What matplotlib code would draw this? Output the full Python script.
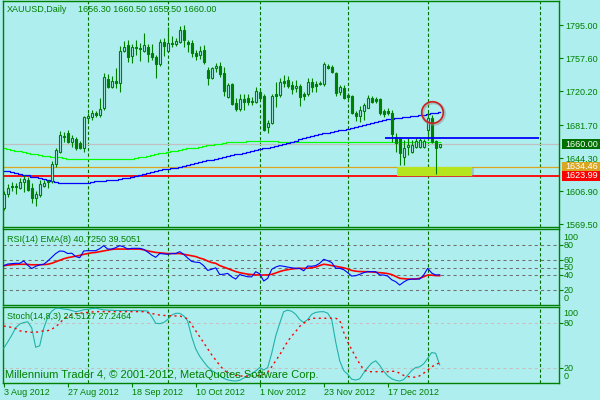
import numpy as np
import matplotlib
matplotlib.use('Agg')
import matplotlib.pyplot as plt
from matplotlib.patches import Rectangle
import matplotlib.transforms as mtransforms

plt.rcParams['font.family'] = ['Liberation Sans', 'DejaVu Sans']

# ---------------- data ----------------
opens = [1587.6, 1603.5, 1613.1, 1612.5, 1610.3, 1617.1, 1619.4, 1610.3, 1599.0, 1602.4,
         1612.6, 1618.2, 1618.2, 1637.5, 1651.1, 1669.2, 1672.6, 1662.4, 1665.8, 1661.3,
         1655.6, 1689.6, 1690.8, 1695.3, 1693.0, 1701.0, 1733.8, 1724.7, 1731.5, 1729.3,
         1765.5, 1772.3, 1759.9, 1770.1, 1768.9, 1765.5, 1770.1, 1763.3, 1758.7, 1750.8,
         1775.7, 1765.5, 1774.6, 1773.5, 1775.7, 1789.3, 1775.7, 1774.6, 1763.3, 1761.0,
         1766.7, 1744.0, 1734.9, 1746.3, 1748.5, 1740.6, 1713.4, 1728.1, 1706.6, 1699.8,
         1711.1, 1712.3, 1709.4, 1707.7, 1719.1, 1714.5, 1679.4, 1684.0, 1716.8, 1715.7,
         1731.0, 1732.7, 1727.0, 1723.6, 1725.9, 1716.8, 1716.8, 1730.4, 1728.1, 1729.3,
         1728.1, 1748.5, 1747.4, 1740.6, 1719.1, 1723.6, 1715.7, 1714.5, 1695.3, 1691.9,
         1697.6, 1701.0, 1712.3, 1711.1, 1711.1, 1697.6, 1697.6, 1695.3, 1668.1, 1667.0,
         1645.4, 1656.8, 1651.1, 1656.8, 1656.8, 1656.8, 1676.0, 1689.6, 1663.6, 1656.3]
highs = [1606.9, 1614.8, 1617.1, 1616.0, 1621.6, 1625.0, 1622.8, 1616.0, 1606.9, 1619.4,
         1619.4, 1619.4, 1640.9, 1655.6, 1674.9, 1673.8, 1676.0, 1670.4, 1668.1, 1663.6,
         1691.9, 1695.3, 1698.7, 1697.6, 1712.3, 1740.6, 1739.5, 1737.2, 1746.3, 1771.2,
         1776.9, 1778.0, 1773.5, 1778.0, 1774.6, 1785.9, 1773.5, 1773.5, 1761.0, 1779.1,
         1780.3, 1792.7, 1782.5, 1780.3, 1793.9, 1795.0, 1778.0, 1778.0, 1766.7, 1771.2,
         1772.3, 1747.4, 1747.9, 1751.9, 1753.1, 1747.4, 1729.3, 1729.3, 1712.3, 1716.8,
         1716.8, 1716.8, 1713.4, 1724.7, 1723.6, 1716.8, 1687.4, 1716.8, 1730.4, 1734.9,
         1738.3, 1737.2, 1731.5, 1732.7, 1728.1, 1719.1, 1734.9, 1734.9, 1731.5, 1731.5,
         1753.1, 1750.8, 1749.7, 1741.7, 1727.0, 1727.0, 1717.9, 1715.7, 1697.6, 1703.2,
         1706.6, 1715.7, 1714.5, 1713.4, 1712.3, 1699.8, 1701.0, 1698.7, 1672.6, 1667.5,
         1664.7, 1667.0, 1664.7, 1667.0, 1667.0, 1665.8, 1696.4, 1693.0, 1664.7, 1660.5]
lows = [1585.4, 1600.1, 1606.9, 1603.5, 1609.2, 1605.8, 1606.9, 1593.3, 1589.9, 1600.1,
        1611.4, 1610.3, 1616.0, 1634.1, 1650.5, 1662.4, 1661.3, 1656.8, 1653.4, 1654.5,
        1651.1, 1686.2, 1687.4, 1690.8, 1690.8, 1698.7, 1723.6, 1723.6, 1723.6, 1719.1,
        1764.4, 1753.1, 1751.9, 1761.0, 1754.2, 1764.4, 1753.1, 1755.3, 1734.9, 1748.5,
        1759.9, 1764.4, 1770.1, 1771.2, 1775.0, 1770.1, 1764.4, 1758.7, 1755.3, 1756.5,
        1750.8, 1727.0, 1733.8, 1741.7, 1736.1, 1714.5, 1712.3, 1704.3, 1697.6, 1697.6,
        1698.7, 1704.3, 1704.3, 1706.6, 1710.0, 1674.9, 1672.6, 1682.8, 1702.1, 1713.4,
        1724.7, 1723.6, 1716.8, 1719.1, 1703.2, 1710.0, 1714.5, 1719.1, 1719.1, 1727.0,
        1725.9, 1745.1, 1740.6, 1714.5, 1715.7, 1711.1, 1710.0, 1694.2, 1686.2, 1685.1,
        1687.4, 1700.5, 1706.6, 1706.6, 1693.0, 1690.8, 1693.0, 1662.4, 1651.1, 1636.4,
        1636.4, 1647.7, 1650.0, 1655.6, 1655.6, 1655.6, 1664.7, 1661.3, 1626.2, 1655.5]
closes = [1603.5, 1610.3, 1611.4, 1611.0, 1617.1, 1620.5, 1608.0, 1599.0, 1603.5, 1614.8,
          1616.0, 1617.1, 1637.5, 1653.4, 1670.4, 1668.1, 1662.4, 1667.0, 1655.6, 1655.6,
          1690.8, 1691.9, 1695.3, 1693.0, 1699.8, 1736.1, 1724.7, 1731.5, 1729.3, 1765.5,
          1770.1, 1758.7, 1770.1, 1768.9, 1767.8, 1772.3, 1762.1, 1758.7, 1750.8, 1775.7,
          1771.2, 1774.6, 1773.5, 1776.9, 1789.3, 1778.0, 1773.5, 1763.3, 1759.9, 1765.5,
          1753.1, 1734.9, 1746.3, 1748.5, 1739.5, 1720.2, 1727.0, 1705.5, 1699.8, 1711.1,
          1707.7, 1707.7, 1708.3, 1720.2, 1712.3, 1676.0, 1684.0, 1714.5, 1714.5, 1730.4,
          1729.8, 1725.9, 1722.5, 1725.9, 1713.4, 1714.5, 1730.4, 1724.7, 1725.9, 1728.1,
          1750.8, 1746.3, 1741.7, 1717.9, 1724.7, 1712.3, 1713.4, 1695.3, 1691.9, 1698.7,
          1704.3, 1712.3, 1707.7, 1708.9, 1695.3, 1694.2, 1695.3, 1671.5, 1661.3, 1650.0,
          1655.6, 1659.0, 1659.0, 1663.6, 1664.7, 1663.6, 1689.6, 1662.4, 1655.6, 1660.0]

ma_slow = [1655.6, 1654.5, 1653.4, 1652.2, 1651.7, 1651.1, 1650.3, 1649.4, 1648.8, 1647.7,
           1647.1, 1646.6, 1646.0, 1645.4, 1644.9, 1644.6, 1643.7, 1642.8, 1642.8, 1642.8,
           1642.8, 1642.8, 1642.8, 1642.8, 1642.8, 1642.8, 1642.8, 1642.8, 1642.8, 1642.8,
           1642.8, 1643.2, 1643.7, 1644.3, 1644.9, 1645.4, 1646.6, 1647.7, 1648.8, 1650.0,
           1650.5, 1651.1, 1651.7, 1652.8, 1653.4, 1654.5, 1655.1, 1655.6, 1656.2, 1656.8,
           1657.9, 1658.5, 1659.0, 1660.2, 1660.7, 1661.3, 1661.9, 1662.4, 1662.4, 1663.0,
           1663.0, 1663.6, 1663.6, 1663.6, 1663.6, 1663.6, 1663.6, 1663.6, 1663.6, 1663.0,
           1662.4, 1662.4, 1662.4, 1662.4, 1662.4, 1662.4, 1662.4, 1662.4, 1662.4, 1662.4,
           1662.8, 1662.8, 1662.8, 1662.8, 1662.8, 1661.9, 1661.9, 1661.9, 1661.9, 1661.9,
           1661.9, 1661.9, 1661.9, 1661.9, 1661.9, 1661.9, 1661.9, 1661.9, 1661.9, 1661.9,
           1661.9, 1661.9, 1661.9, 1661.9, 1661.9, 1661.9, 1661.9, 1661.9, 1661.9, 1661.9]
ma_fast = [1630.1, 1629.2, 1628.4, 1627.3, 1626.5, 1625.6, 1624.5, 1623.3, 1622.4, 1621.4,
           1620.2, 1619.0, 1617.7, 1617.1, 1616.5, 1616.0, 1615.6, 1615.6, 1615.6, 1615.6,
           1616.0, 1616.3, 1616.8, 1617.7, 1618.2, 1618.8, 1619.1, 1619.4, 1619.9, 1620.5,
           1621.4, 1622.2, 1623.1, 1624.1, 1625.3, 1626.5, 1627.6, 1628.8, 1629.6, 1630.5,
           1631.3, 1632.1, 1632.7, 1633.5, 1634.3, 1635.2, 1636.4, 1637.5, 1638.6, 1640.0,
           1640.9, 1641.7, 1642.6, 1643.5, 1644.5, 1645.7, 1646.6, 1647.7, 1648.6, 1649.4,
           1650.3, 1651.1, 1652.2, 1653.4, 1654.5, 1655.6, 1656.2, 1657.3, 1658.2, 1659.0,
           1660.2, 1661.3, 1662.8, 1664.1, 1665.5, 1666.6, 1667.7, 1668.9, 1670.0, 1671.2,
           1672.3, 1673.1, 1673.9, 1674.7, 1675.5, 1676.4, 1677.2, 1678.3, 1679.4, 1680.6,
           1681.7, 1682.8, 1684.0, 1685.1, 1686.2, 1687.4, 1688.2, 1688.7, 1689.3, 1690.0,
           1690.5, 1691.1, 1691.7, 1692.2, 1692.8, 1693.5, 1694.2, 1694.8, 1695.5, 1696.1]

rsi = [52.8, 55, 55.5, 56, 56, 59, 53.5, 49, 52, 54,
       54.7, 59, 64, 69, 72.4, 72, 69, 69.5, 65, 63.5,
       72.4, 72.8, 72.8, 72.8, 75.5, 79.5, 75, 75, 76.8, 79.5,
       78, 75, 76, 76, 76, 74.5, 71, 67, 64, 69,
       68.5, 68, 69, 69, 71.5, 68, 63, 58.5, 57.5, 57,
       52.8, 46.5, 48, 50, 41, 41.5, 42.5, 38, 35, 41,
       39.5, 38, 38, 44.8, 42, 32.4, 36, 48, 51, 52.8,
       52, 51, 50, 49.3, 49.3, 46, 52.4, 52, 53, 56,
       61.3, 59.5, 57, 49.3, 49.3, 47.5, 43.5, 39, 39.5, 41.3,
       43.5, 44.8, 44.8, 44.8, 40.4, 40.4, 39, 34, 31.5, 27,
       31, 34, 35, 35, 35, 40.4, 49.3, 43, 40.4, 40.725]
rsi_ema = [52.8, 53.5, 54, 54.5, 54.7, 54.7, 54.5, 54, 54, 54,
           54.3, 54.7, 56, 58, 60, 62, 63.5, 64.5, 65.5, 66.5,
           68, 69, 70, 70.5, 71.5, 72.5, 73.5, 74.5, 75, 75,
           75, 75, 75, 75, 75, 74, 72.5, 71.5, 70.5, 70,
           69.5, 69, 69, 69, 69, 68, 67, 66, 65, 63,
           61.5, 59, 57, 56, 53, 51, 49, 47, 45, 43.5,
           42.5, 41.5, 41, 40.5, 40.4, 40.4, 40.5, 41.3, 43, 45,
           46.5, 47.5, 48.4, 49, 49.3, 49.3, 49.5, 50, 51, 53,
           54.7, 54, 53, 52, 51, 50, 48.5, 46.5, 45.5, 45,
           44.8, 44.8, 44.5, 44, 43.5, 43, 42.3, 41, 38.5, 36,
           35.5, 35, 35, 35, 36, 38, 40.4, 40.2, 39.6, 39.5051]

stoch_main = [46.7, 55, 64, 74, 79, 81, 82, 74, 48, 50,
              73.3, 88, 96, 100, 100, 99, 98.5, 97, 95.5, 96.5,
              98, 98.5, 99.5, 100, 99, 97.8, 97.5, 97.3, 97, 97,
              97, 97, 96.9, 96.9, 96.8, 96.6, 96.4, 89, 80, 79.5,
              81, 85, 91, 93.3, 93.3, 90, 83, 62, 46, 36,
              28.8, 22, 17, 14, 10, 6.7, 4.5, 3.5, 3, 4,
              7, 10, 13, 16.5, 21, 17.8, 21, 40, 63, 80,
              95.5, 97.5, 96, 92, 85, 81, 85, 92, 94.5, 95.3,
              95.5, 93.5, 85, 55, 30, 17, 12, 5.5, 4.4, 6,
              14, 21, 27, 30, 24, 16, 10, 6, 4, 3,
              5, 11, 17, 21, 22, 26, 33.3, 41, 40, 24.5127]
stoch_signal = [76.4, 75.5, 74.5, 73, 70, 69, 68.5, 68, 68, 69,
                70, 70.2, 72, 75.5, 80, 86, 89, 91.5, 93, 93.5,
                94, 94.5, 95, 95.5, 95.5, 95.5, 95.5, 95.5, 95.5, 95.5,
                95.5, 95.5, 95.5, 95.5, 95.5, 95.5, 94.2, 93, 92, 91,
                90.5, 90, 90, 89.8, 89.8, 88, 86, 78, 70, 62,
                54, 46, 38, 31, 24, 18, 14, 12, 10.5, 9.7,
                9.7, 9.7, 9.7, 9.7, 10.5, 12, 15, 22, 30, 38,
                47, 56, 63, 69, 76, 80, 84, 86.7, 86.7, 86.7,
                86.7, 86.7, 86.7, 86.7, 84, 68, 55, 45, 35, 26,
                18, 15.5, 15.5, 15.5, 15.5, 15.5, 15.5, 16, 16, 13.3,
                10.5, 9, 8.5, 8, 10, 13.5, 17.8, 22, 25, 27.2464]

price_ticks = [1795.00, 1757.60, 1720.20, 1681.70, 1644.30, 1606.90, 1569.50]
rsi_levels = [100, 80, 60, 50, 40, 20, 0]
rsi_dash_levels = [80, 60, 50, 40, 20]
stoch_levels = [100, 80, 20, 0]
stoch_dash_levels = [80, 20]
date_bars = [0, 16, 32, 48, 64, 80, 96]
date_labels = ['3 Aug 2012', '27 Aug 2012', '18 Sep 2012', '10 Oct 2012',
               '1 Nov 2012', '23 Nov 2012', '17 Dec 2012']
grid_bars = [21, 41, 64, 86, 106, 134]

last_price = 1660.00
support1 = 1634.46
support2 = 1623.99
resist_line = 1666.6
resist_start, resist_end = 95.3, 133.8
zone_start, zone_end = 98.3, 117.1
circle_bar, circle_price = 107, 1696.4

# ---------------- style ----------------
BG = '#AFEEEE'
GREEN = '#008000'
GRIDC = '#007000'
W, H = 600, 400
FS = 6.5

fig = plt.figure(figsize=(6, 4), dpi=100, facecolor=BG)


def rect(x0, y0, x1, y1):
    return [x0 / W, 1 - y1 / H, (x1 - x0) / W, (y1 - y0) / H]


ax = fig.add_axes(rect(2.5, 1, 559, 226.5))
ax_rsi = fig.add_axes(rect(2.5, 228.5, 559, 305))
ax_st = fig.add_axes(rect(2.5, 307.3, 559, 382.7))

XL = (-0.3, 138.825)
for a in (ax, ax_rsi, ax_st):
    a.set_facecolor(BG)
    a.set_xlim(*XL)
    for s in a.spines.values():
        s.set_color(GREEN)
        s.set_linewidth(1.0)
    for gb in grid_bars:
        a.axvline(gb, color=GRIDC, lw=0.8, ls=(0, (2.9, 2.0)), zorder=1)
    a.tick_params(axis='x', which='both', bottom=False, labelbottom=False)

ax.set_ylim(1566.7, 1822.2)
ax_rsi.set_ylim(0.4, 102.4)
ax_st.set_ylim(0.8, 101.3)

x = np.arange(len(opens))
o = np.array(opens); c = np.array(closes); hi = np.array(highs); lo = np.array(lows)
up = c >= o

# horizontal price lines
ax.axhline(last_price, color='#C0C0C0', lw=0.9, zorder=1.5)
ax.axhline(support1, color='#DAA520', lw=0.9, zorder=1.5)
ax.axhline(support2, color='#FF0000', lw=1.3, zorder=1.5)

# zone rectangle with shadow
ax.add_patch(Rectangle((zone_start + 0.4, support2 - 1.6), zone_end - zone_start, support1 - support2,
                       facecolor='#808080', alpha=0.35, edgecolor='none', zorder=1.6))
ax.add_patch(Rectangle((zone_start, support2), zone_end - zone_start, support1 - support2,
                       facecolor='#B5E61D', edgecolor='none', zorder=1.7))

# moving averages
ax.plot(x, ma_slow, color='#00FF00', lw=0.85, drawstyle='steps-mid', zorder=2)
ax.plot(x, ma_fast, color='#0000FF', lw=0.9, drawstyle='steps-mid', zorder=2)

# candles
ax.vlines(x, lo, hi, color=GREEN, lw=0.8, zorder=3)
body_lo = np.minimum(o, c)
body_h = np.abs(c - o)
ax.bar(x, body_h, bottom=body_lo, width=0.5,
       color=[BG if u else GREEN for u in up], edgecolor=GREEN, linewidth=0.8, zorder=4)

# resistance line
ax.hlines(resist_line, resist_start, resist_end, color='#0000FF', lw=1.3, zorder=5)

# red circle with shadow
ax.plot([circle_bar + 0.25], [circle_price - 1.0], marker='o', ms=15.5, mfc='none',
        mec='#909090', mew=2.2, alpha=0.5, zorder=5)
ax.plot([circle_bar], [circle_price], marker='o', ms=15.5, mfc='none',
        mec='#D02020', mew=1.2, zorder=6)

# right price axis
ax.yaxis.tick_right()
ax.set_yticks(price_ticks)
ax.set_yticklabels([f'{v:.2f}' for v in price_ticks])
ax.tick_params(axis='y', colors=GREEN, length=3, width=0.8, pad=1.2, labelsize=FS)
for lbl in ax.get_yticklabels():
    lbl.set_color(GREEN)

# price boxes
ytr = ax.get_yaxis_transform()
box_w = 38.5 / 556.5
box_x = (561.5 - 2.5) / 556.5
txt_x = (565 - 2.5) / 556.5
box_h = 9.5 * 1.1331
for val, col in [(support1, '#DAA520'), (support2, '#FF0000'), (last_price, '#007000')]:
    ax.add_patch(Rectangle((box_x, val - box_h / 2), box_w, box_h, transform=ytr,
                           facecolor=col, edgecolor='none', clip_on=False, zorder=10))
    ax.text(txt_x, val, f'{val:.2f}', transform=ytr, ha='left', va='center',
            color='white', fontsize=FS, clip_on=False, zorder=11)

# RSI panel
for lv in rsi_dash_levels:
    ax_rsi.axhline(lv, color='#707070', lw=0.75, ls=(0, (3, 3)), zorder=1.5)
ax_rsi.plot(x, rsi, color='#0000FF', lw=0.8, zorder=3)
ax_rsi.plot(x, rsi_ema, color='#FF0000', lw=1.2, zorder=2.5)
ax_rsi.yaxis.tick_right()
ax_rsi.set_yticks(rsi_dash_levels)
ax_rsi.set_yticklabels([])
ax_rsi.tick_params(axis='y', colors=GREEN, length=3, width=0.8)
lt = mtransforms.offset_copy(ax_rsi.get_yaxis_transform(), fig=fig, x=4.5, y=0, units='dots')
for lv in rsi_levels:
    ax_rsi.text(1.0, min(max(lv, 9.5), 91), str(lv), transform=lt, ha='left', va='center',
                color=GREEN, fontsize=FS, clip_on=False)

# Stochastic panel
for lv in stoch_dash_levels:
    ax_st.axhline(lv, color='#C8C0C0', lw=0.75, ls=(0, (3, 3)), zorder=1.5)
ax_st.plot(x, stoch_main, color='#20B2AA', lw=0.8, zorder=3)
ax_st.plot(x, stoch_signal, color='#FF0000', lw=1.0, ls=(0, (1.5, 2.5)), zorder=3)
ax_st.yaxis.tick_right()
ax_st.set_yticks(stoch_dash_levels)
ax_st.set_yticklabels([])
ax_st.tick_params(axis='y', colors=GREEN, length=3, width=0.8)
lt2 = mtransforms.offset_copy(ax_st.get_yaxis_transform(), fig=fig, x=4.5, y=0, units='dots')
for lv in stoch_levels:
    ax_st.text(1.0, min(max(lv, 8.5), 92.4), str(lv), transform=lt2, ha='left', va='center',
               color=GREEN, fontsize=FS, clip_on=False)

# dates
ax_st.set_xticks(date_bars)
ax_st.set_xticklabels(date_labels, ha='left')
ax_st.tick_params(axis='x', bottom=True, labelbottom=True, colors=GREEN, length=3,
                  width=0.8, pad=0.5, labelsize=FS)
for lbl in ax_st.get_xticklabels():
    lbl.set_color(GREEN)


def ftext(px, py, s, **kw):
    fig.text(px / W, 1 - py / H, s, ha='left', va='center', color=GREEN, **kw)


ftext(7, 10, 'XAUUSD,Daily', fontsize=FS)
ftext(77.5, 10, f'{opens[-1]:.2f} {highs[-1]:.2f} {lows[-1]:.2f} {closes[-1]:.2f}', fontsize=FS)
ftext(7, 240, 'RSI(14) EMA(8) 40,7250 39.5051', fontsize=FS)
ftext(7, 316.5, 'Stoch(14,8,3) 24.5127 27.2464', fontsize=FS)
ftext(5, 375, 'Millennium Trader 4, © 2001-2012, MetaQuotes Software Corp.', fontsize=8)

fig.savefig('out.png', dpi=100, facecolor=BG)
